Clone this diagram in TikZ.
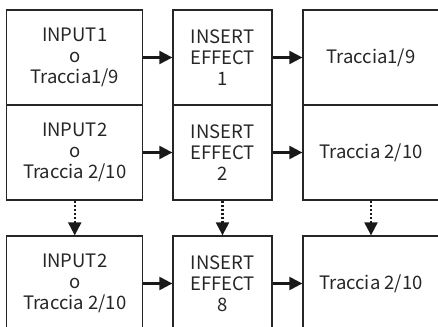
\documentclass[tikz,border=0pt]{standalone}
\usepackage{fontspec}
\setmainfont{Noto Sans CJK JP}
\usetikzlibrary{arrows.meta}

\begin{document}
\begin{tikzpicture}[x=1pt,y=1pt,
  box/.style={draw=black!85,line width=1.3pt,minimum width=136pt,minimum height=95pt,
    inner sep=0pt,align=center,text=black!85,font=\fontsize{18.5}{21}\selectfont},
  fxbox/.style={box,minimum width=99pt},
  flow/.style={line width=2.2pt,draw=black!90,-{Triangle[length=13pt,width=13pt]}},
  skip/.style={flow,dash pattern=on 2pt off 2pt}]
\useasboundingbox (0,0) rectangle (438,326);
\clip (0,0) rectangle (438,326);
% row 1
\node[box] (in1) at (74.75,268.5) {INPUT1\\o\\Traccia1/9};
\node[fxbox] (fx1) at (222.5,268.5) {INSERT\\EFFECT\\1};
\node[box] (tr1) at (371,268.5) {Traccia1/9};
% row 2
\node[box] (in2) at (74.75,173.5) {INPUT2\\o\\Traccia 2/10};
\node[fxbox] (fx2) at (222.5,173.5) {INSERT\\EFFECT\\2};
\node[box] (tr2) at (371,173.5) {Traccia 2/10};
% row 3
\node[box] (in3) at (74.75,42.5) {INPUT2\\o\\Traccia 2/10};
\node[fxbox] (fx3) at (222.5,42.5) {INSERT\\EFFECT\\8};
\node[box] (tr3) at (371,42.5) {Traccia 2/10};
% arrows
\foreach \r in {1,2,3}{
  \draw[flow] (in\r) -- (fx\r);
  \draw[flow] (fx\r) -- (tr\r);
}
\foreach \c in {in,fx,tr}
  \draw[skip] (\c2) -- (\c3);
\end{tikzpicture}
\end{document}
